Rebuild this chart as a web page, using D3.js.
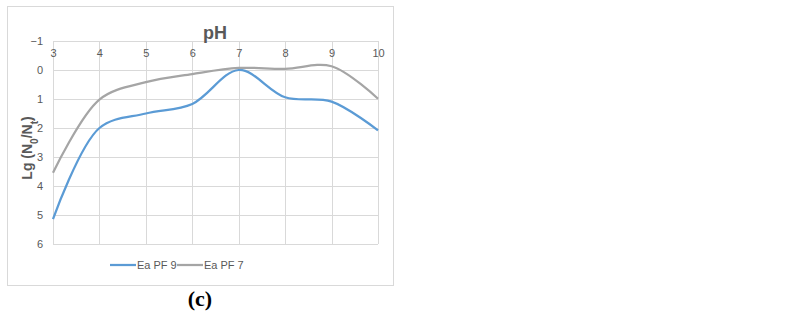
<!doctype html>
<html>
<head>
<meta charset="utf-8">
<script src="https://d3js.org/d3.v7.min.js"></script>
<style>
  body { margin: 0; background: #fff; }
  .grid line { stroke: #d9d9d9; stroke-width: 1px; }
  .tick text { fill: #595959; font-family: "Liberation Sans", Arial, sans-serif; font-size: 11px; }
  .line { fill: none; stroke-width: 2.25px; }
</style>
</head>
<body>
<svg id="chart" width="788" height="318"></svg>
<script>
// pH values and measured log reductions
var phValues = [3, 4, 5, 6, 7, 8, 9, 10];
var eaPF9 = [5.14, 2.0, 1.5, 1.17, 0.0, 0.94, 1.09, 2.08];
var eaPF7 = [3.54, 1.02, 0.42, 0.14, -0.07, -0.04, -0.13, 0.99];
var yTicks = [-1, 0, 1, 2, 3, 4, 5, 6];
var seriesNames = ["Ea PF 9", "Ea PF 7"];
var seriesColors = ["#5b9bd5", "#a5a5a5"];

var svg = d3.select("#chart");
var font = "'Liberation Sans', Arial, sans-serif";

// outer chart border
svg.append("rect")
  .attr("x", 7.5).attr("y", 6.5)
  .attr("width", 386).attr("height", 279)
  .attr("fill", "#fff").attr("stroke", "#d9d9d9");

var x = d3.scaleLinear().domain([3, 10]).range([53, 378]);
var y = d3.scaleLinear().domain([-1, 6]).range([41, 244]);

// grid lines
var grid = svg.append("g").attr("class", "grid");
grid.selectAll(".h").data(yTicks).enter().append("line")
  .attr("x1", x(3)).attr("x2", x(10))
  .attr("y1", function(d) { return Math.round(y(d)) + 0.5; })
  .attr("y2", function(d) { return Math.round(y(d)) + 0.5; });
grid.selectAll(".v").data(phValues).enter().append("line")
  .attr("y1", y(-1)).attr("y2", y(6))
  .attr("x1", function(d) { return Math.round(x(d)) + 0.5; })
  .attr("x2", function(d) { return Math.round(x(d)) + 0.5; });

// x axis labels (below top edge, reversed y axis)
var xAxis = svg.append("g")
  .attr("transform", "translate(0," + y(-1) + ")")
  .call(d3.axisBottom(x).tickValues(phValues).tickSize(0).tickPadding(8).tickFormat(d3.format("d")));
xAxis.select(".domain").remove();

// y axis labels
var yAxis = svg.append("g")
  .attr("transform", "translate(" + x(3) + ",0)")
  .call(d3.axisLeft(y).tickValues(yTicks).tickSize(0).tickPadding(10)
    .tickFormat(function(d) { return d < 0 ? "\u2212" + Math.abs(d) : d; }));
yAxis.select(".domain").remove();

// lines
var line = d3.line()
  .x(function(d) { return x(d[0]); })
  .y(function(d) { return y(d[1]); })
  .curve(d3.curveCatmullRom.alpha(0.5));

[eaPF9, eaPF7].forEach(function(vals, i) {
  svg.append("path")
    .datum(phValues.map(function(p, j) { return [p, vals[j]]; }))
    .attr("class", "line")
    .attr("stroke", seriesColors[i])
    .attr("d", line);
});

// title
svg.append("text")
  .attr("x", 215).attr("y", 39)
  .attr("text-anchor", "middle")
  .attr("font-family", font).attr("font-size", 18).attr("font-weight", "bold")
  .attr("fill", "#595959")
  .text("pH");

// y axis title
var yt = svg.append("text")
  .attr("transform", "translate(32,148) rotate(-90)")
  .attr("text-anchor", "middle")
  .attr("font-family", font).attr("font-size", 14).attr("font-weight", "bold")
  .attr("fill", "#595959");
yt.append("tspan").text("Lg (N");
yt.append("tspan").attr("baseline-shift", "sub").attr("font-size", 10).text("0");
yt.append("tspan").text("/N");
yt.append("tspan").attr("baseline-shift", "sub").attr("font-size", 10).text("t");
yt.append("tspan").text(")");

// legend
var legendX = [110, 177];
seriesNames.forEach(function(name, i) {
  svg.append("line")
    .attr("x1", legendX[i]).attr("x2", legendX[i] + 26)
    .attr("y1", 265).attr("y2", 265)
    .attr("stroke", seriesColors[i]).attr("stroke-width", 2.25);
  svg.append("text")
    .attr("x", legendX[i] + 27).attr("y", 269)
    .attr("font-family", font).attr("font-size", 11)
    .attr("fill", "#595959")
    .text(name);
});

// panel caption
svg.append("text")
  .attr("x", 200).attr("y", 306)
  .attr("text-anchor", "middle")
  .attr("font-family", "'Liberation Serif', 'DejaVu Serif', serif").attr("font-size", 22)
  .attr("font-weight", "bold")
  .attr("fill", "#000")
  .text("(c)");
</script>
</body>
</html>
